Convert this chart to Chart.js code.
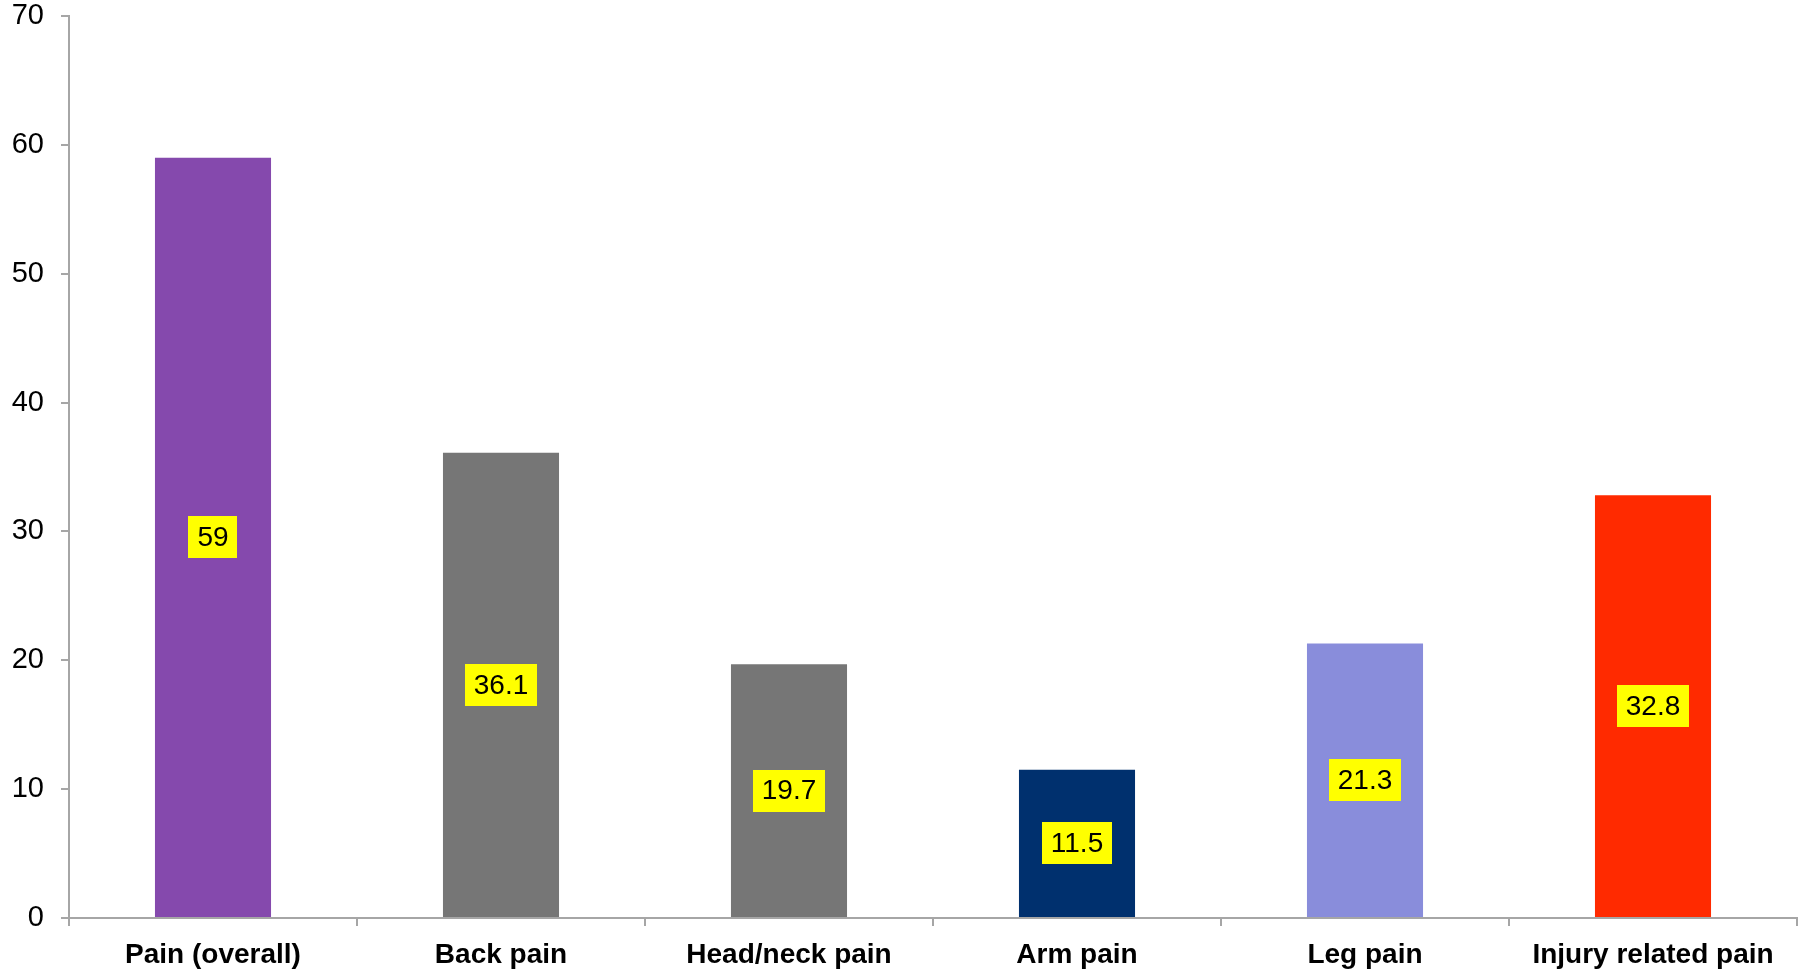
<!DOCTYPE html>
<html>
<head>
<meta charset="utf-8">
<script src="https://cdn.jsdelivr.net/npm/chart.js@4/dist/chart.umd.min.js"></script>
<style>
  html, body { margin: 0; padding: 0; background: #fff; }
  #wrap { width: 1806px; height: 971px; }
</style>
</head>
<body>
<div id="wrap"><canvas id="chart" width="1806" height="971"></canvas></div>
<script>
// ── Data ─────────────────────────────────────────────
const categories = ['Pain (overall)', 'Back pain', 'Head/neck pain', 'Arm pain', 'Leg pain', 'Injury related pain'];
const values     = [59, 36.1, 19.7, 11.5, 21.3, 32.8];
const barColors  = ['#8549AD', '#767676', '#767676', '#00306E', '#898DDB', '#FF2A00'];
const yTicks     = [0, 10, 20, 30, 40, 50, 60, 70];

const AXIS = '#A6A6A6';
const FONT = '"Liberation Sans", Arial, Helvetica, sans-serif';

// yellow value boxes, centred in each bar
const valueBoxes = {
  id: 'valueBoxes',
  afterDatasetsDraw(chart) {
    const ctx = chart.ctx;
    const meta = chart.getDatasetMeta(0);
    ctx.save();
    ctx.font = '28px ' + FONT;
    ctx.textAlign = 'center';
    ctx.textBaseline = 'middle';
    meta.data.forEach((bar, i) => {
      const txt = String(values[i]);
      const cy = (bar.y + bar.base) / 2;
      const w = ctx.measureText(txt).width + 18;
      const h = 42;
      ctx.fillStyle = '#FFFF00';
      ctx.fillRect(Math.round(bar.x - w / 2), Math.round(cy - h / 2), Math.round(w), h);
      ctx.fillStyle = '#000';
      ctx.fillText(txt, bar.x, cy + 1);
    });
    ctx.restore();
  }
};

new Chart(document.getElementById('chart'), {
  type: 'bar',
  data: {
    labels: categories,
    datasets: [{
      data: values,
      backgroundColor: barColors,
      borderWidth: 0,
      barPercentage: 0.403,
      categoryPercentage: 1,
    }]
  },
  options: {
    responsive: false,
    animation: false,
    devicePixelRatio: 1,
    layout: { padding: { top: 16, right: 9, left: 0, bottom: 0 } },
    plugins: { legend: { display: false }, tooltip: { enabled: false } },
    scales: {
      x: {
        offset: true,
        grid: { drawOnChartArea: false, offset: true, color: AXIS, lineWidth: 2, tickLength: 8 },
        border: { color: AXIS, width: 2 },
        ticks: { color: '#000', font: { family: FONT, size: 28, weight: 'bold' }, padding: 12, maxRotation: 0, autoSkip: false },
        afterFit: s => { s.height = 53; s.paddingLeft = 0; s.paddingRight = 0; }
      },
      y: {
        min: 0, max: 70,
        afterBuildTicks: s => { s.ticks = yTicks.map(v => ({ value: v })); },
        grid: { drawOnChartArea: false, color: AXIS, lineWidth: 2, tickLength: 8 },
        border: { color: AXIS, width: 2 },
        ticks: { color: '#000', font: { family: FONT, size: 29 }, padding: 17 },
        afterFit: s => { s.width = 69; s.paddingTop = 0; s.paddingBottom = 0; }
      }
    }
  },
  plugins: [valueBoxes]
});
</script>
</body>
</html>
